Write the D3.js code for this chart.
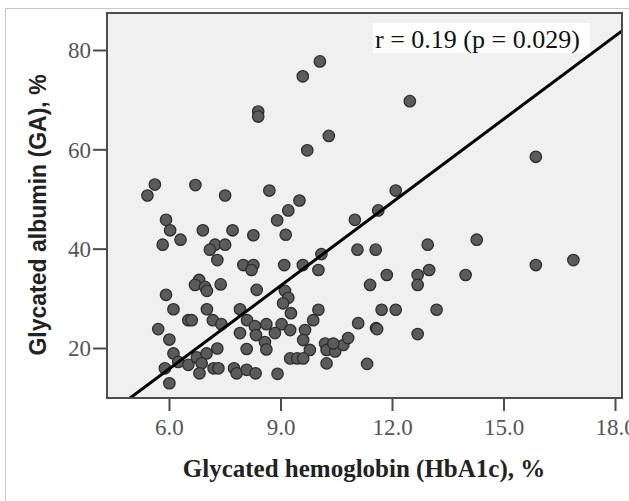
<html>
  <head>
	<title>GA vs HbA1c</title>
	<script src="https://cdn.jsdelivr.net/npm/d3@7/dist/d3.min.js" type="text/javascript" charset="utf-8"></script>
	<style>
	  body { margin: 0; background: #fff; }
	  svg { display: block; }
	</style>
  </head>
  <body>
	<svg></svg>
  </body>
  <script type="text/javascript">
	// HbA1c (%) and GA (%) per patient
	var hba1c = [5.62, 5.42, 6.71, 7.51, 8.70, 5.92, 6.03, 5.83, 6.31, 6.91,
	             7.71, 8.27, 7.24, 7.10, 7.51, 7.30, 8.00, 8.27, 8.22, 6.81,
	             6.70, 6.97, 7.02, 7.39, 5.92, 6.12, 6.52, 6.61, 7.02, 7.18,
	             7.41, 7.91, 8.10, 8.36, 5.71, 6.01, 6.12, 5.89, 6.01, 6.25,
	             6.52, 6.75, 7.01, 7.30, 6.88, 6.82, 7.20, 7.33, 7.75, 7.82,
	             8.09, 8.33, 7.91, 8.09, 8.31, 8.34, 8.62, 9.03, 9.26, 8.85,
	             8.58, 8.62, 8.92, 9.12, 9.21, 9.07, 9.28, 10.02, 9.88, 9.66,
	             9.61, 9.79, 9.26, 9.45, 9.61, 10.20, 10.24, 10.47, 10.69, 10.82,
	             10.42, 10.24, 11.09, 11.57, 11.33, 9.10, 9.60, 10.02, 9.51, 9.21,
	             8.91, 9.14, 11.00, 11.63, 11.07, 11.56, 10.10, 12.10, 14.28, 12.96,
	             13.00, 12.69, 12.69, 11.86, 13.98, 15.87, 16.88, 11.41, 11.72, 12.10,
	             13.20, 11.60, 12.69, 15.87, 9.60, 10.06, 8.40, 8.40, 9.72, 12.48,
	             10.30];
	var ga = [52.9, 50.7, 52.8, 50.7, 51.7, 45.8, 43.7, 40.8, 41.8, 43.7,
	          43.7, 42.7, 40.8, 39.8, 40.8, 37.7, 36.7, 36.7, 35.7, 33.7,
	          32.7, 32.3, 31.5, 32.8, 30.7, 27.8, 25.6, 25.6, 27.8, 25.6,
	          24.8, 27.8, 25.6, 31.7, 23.8, 21.7, 18.9, 15.9, 12.9, 17.2,
	          16.6, 18.1, 18.9, 19.9, 16.9, 14.9, 15.9, 15.9, 15.9, 14.9,
	          15.6, 14.9, 23.0, 19.8, 24.4, 22.6, 24.8, 24.8, 23.6, 23.0,
	          21.2, 19.7, 14.8, 31.5, 30.1, 29.0, 27.0, 27.7, 25.6, 23.6,
	          21.6, 19.6, 17.9, 17.9, 17.9, 20.9, 19.6, 19.3, 20.6, 22.0,
	          20.9, 16.9, 25.0, 24.0, 16.8, 36.7, 36.7, 35.7, 49.7, 47.7,
	          45.7, 42.8, 45.8, 47.7, 39.8, 39.8, 38.9, 51.7, 41.8, 40.8,
	          35.7, 34.7, 32.7, 34.7, 34.7, 36.7, 37.7, 32.7, 27.7, 27.7,
	          27.7, 23.8, 22.8, 58.5, 74.7, 77.7, 67.6, 66.6, 59.8, 69.7,
	          62.7];
	var xTicks = [6, 9, 12, 15, 18];
	var yTicks = [20, 40, 60, 80];
	// fit line GA = slope * HbA1c + intercept
	var fitSlope = 5.585, fitIntercept = -17.73;
	var fitLabel = 'r = 0.19 (p = 0.029)';

	(function() {
	  var svg = d3.select('svg')
				.attr('width', 629)
				.attr('height', 501);
	  var left = 107, right = 622, top = 13, bottom = 398;
	  var x = d3.scaleLinear().domain([4.332, 18.188]).range([left, right]),
		  y = d3.scaleLinear().domain([9.93, 87.45]).range([bottom, top]);

	  // outer light frame
	  svg.append('rect')
		 .attr('x', 5.5).attr('y', 8.5)
		 .attr('width', 700).attr('height', 600)
		 .attr('fill', '#fff')
		 .attr('stroke', '#c8c8c8');

	  svg.append('defs').append('clipPath').attr('id', 'plot-clip')
		 .append('rect')
		 .attr('x', left).attr('y', top)
		 .attr('width', right - left).attr('height', bottom - top);

	  svg.append('rect')
		 .attr('x', left).attr('y', top)
		 .attr('width', right - left).attr('height', bottom - top)
		 .attr('fill', '#f0f0f0');

	  var pts = hba1c.map(function(d, i) { return [d, ga[i]]; });
	  svg.append('g')
		 .attr('clip-path', 'url(#plot-clip)')
		 .selectAll('.pt')
		 .data(pts)
		 .enter()
		 .append('circle')
		 .attr('class', 'pt')
		 .attr('cx', function(d) { return x(d[0]); })
		 .attr('cy', function(d) { return y(d[1]); })
		 .attr('r', 5.7)
		 .attr('fill', '#5b5b5b')
		 .attr('stroke', '#2e2e2e')
		 .attr('stroke-width', 1.3);

	  var xd = x.domain();
	  svg.append('line')
		 .attr('clip-path', 'url(#plot-clip)')
		 .attr('x1', x(xd[0])).attr('y1', y(fitSlope * xd[0] + fitIntercept))
		 .attr('x2', x(xd[1])).attr('y2', y(fitSlope * xd[1] + fitIntercept))
		 .attr('stroke', '#000')
		 .attr('stroke-width', 3);

	  // frame of plot
	  svg.append('rect')
		 .attr('x', left).attr('y', top)
		 .attr('width', right - left).attr('height', bottom - top)
		 .attr('fill', 'none')
		 .attr('stroke', '#4d4d4d')
		 .attr('stroke-width', 2);

	  var xAxis = svg.append('g')
		 .attr('transform', 'translate(0,' + bottom + ')')
		 .call(d3.axisBottom(x).tickValues(xTicks).tickFormat(d3.format('.1f')).tickSize(13).tickPadding(8));
	  var yAxis = svg.append('g')
		 .attr('transform', 'translate(' + left + ',0)')
		 .call(d3.axisLeft(y).tickValues(yTicks).tickSize(14).tickPadding(2));
	  [xAxis, yAxis].forEach(function(g) {
		g.select('.domain').remove();
		g.selectAll('.tick line').attr('stroke', '#4d4d4d').attr('stroke-width', 2);
		g.selectAll('.tick text')
		 .attr('fill', '#555')
		 .style('font-family', '"Liberation Serif", "Times New Roman", serif')
		 .style('font-size', '23px');
	  });
	  yAxis.selectAll('.tick text').attr('dy', '0.34em');

	  // annotation box
	  svg.append('rect')
		 .attr('x', 373).attr('y', 23)
		 .attr('width', 217).attr('height', 30)
		 .attr('fill', '#fff');
	  svg.append('text')
		 .attr('x', 375).attr('y', 48)
		 .attr('fill', '#111')
		 .style('font-family', '"Liberation Serif", "Times New Roman", serif')
		 .style('font-size', '26px')
		 .text(fitLabel);

	  svg.append('text')
		 .attr('x', 364).attr('y', 477)
		 .attr('text-anchor', 'middle')
		 .attr('fill', '#222')
		 .style('font-family', '"Liberation Serif", "Times New Roman", serif')
		 .style('font-weight', 'bold')
		 .style('font-size', '25px')
		 .text('Glycated hemoglobin (HbA1c), %');

	  svg.append('text')
		 .attr('transform', 'translate(46,215) rotate(-90)')
		 .attr('text-anchor', 'middle')
		 .attr('fill', '#222')
		 .style('font-family', '"Liberation Sans", Arial, sans-serif')
		 .style('font-weight', 'bold')
		 .style('font-size', '23px')
		 .text('Glycated albumin (GA), %');
	})();
  </script>
</html>
